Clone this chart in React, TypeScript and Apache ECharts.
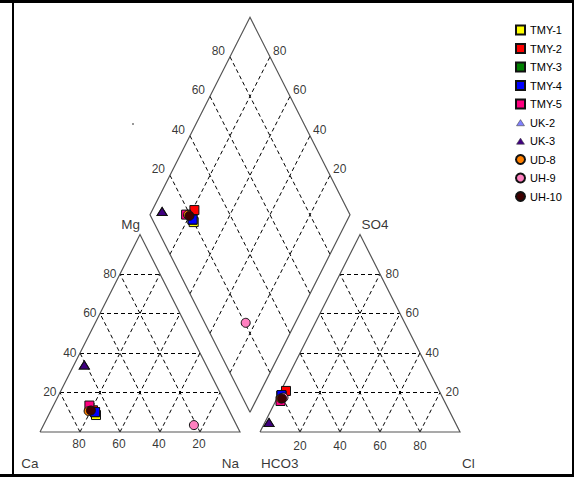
import React, { useEffect, useRef } from 'react';
import * as echarts from 'echarts';

// ---- data (percent of meq) ----
const sampleNames = ['TMY-1', 'TMY-2', 'TMY-3', 'TMY-4', 'TMY-5', 'UK-2', 'UK-3', 'UD-8', 'UH-9', 'UH-10'];
const sampleSymbols = ['rect', 'rect', 'rect', 'rect', 'rect', 'triangle', 'triangle', 'circle', 'circle', 'circle'];
const sampleColors = ['#FFFF00', '#FF0000', '#008000', '#0000FF', '#FF0080', '#8080FF', '#400080', '#FF8000', '#FF80C0', '#400000'];

const caPct = [67.7, 68.0, 67.5, 67.4, 68.6, 60.9, 60.9, 70.4, 21.3, 69.1];
const mgPct = [8.6, 11.0, 10.0, 10.1, 13.4, 33.9, 33.9, 10.6, 3.5, 10.9];
const naPct = [23.7, 21.0, 22.5, 22.5, 18.0, 5.2, 5.2, 19.0, 75.2, 20.0];

const hco3Pct = [80.0, 76.6, 80.0, 79.9, 81.9, 93.1, 93.1, 81.0, 79.5, 80.5];
const so4Pct = [18.5, 20.8, 18.5, 18.7, 15.7, 4.8, 4.8, 17.0, 17.5, 17.0];
const clPct = [1.5, 2.6, 1.5, 1.4, 2.4, 2.1, 2.1, 2.0, 3.0, 2.5];

const gridTicks = [20, 40, 60, 80];
const cornerLabels = ['Mg', 'Ca', 'Na', 'SO4', 'HCO3', 'Cl'];

// ---- geometry helpers (model coords: triangle side = 1) ----
const GAP = 0.1;
const H = Math.sqrt(3) / 2;

function cationXY(ca: number, mg: number, na: number): number[] {
  const s = ca + mg + na;
  const n = na / s;
  const m = mg / s;
  return [n + m / 2, H * m];
}
function anionXY(hco3: number, so4: number, cl: number): number[] {
  const s = hco3 + so4 + cl;
  const c = cl / s;
  const so = so4 / s;
  return [1 + GAP + c + so / 2, H * so];
}
function diamondXY(naP: number, hco3P: number): number[] {
  const n = naP / 100;
  const h = hco3P / 100;
  const a = 2 + GAP - h - n;
  return [n + a / 2, H * a];
}

const FONT = 'Liberation Sans, Arial, sans-serif';
const SMALL_TRIANGLE = 'path://M0 0M10 10M0.6 8.6L5 1.8L9.4 8.6Z';

export default function App() {
  const ref = useRef<HTMLDivElement>(null);

  useEffect(() => {
    if (!ref.current) return;
    const chart = echarts.init(ref.current, undefined, { renderer: 'svg' });

    const outlines = [
      { coords: [[0, 0], [1, 0], [0.5, H], [0, 0]] },
      { coords: [[1 + GAP, 0], [2 + GAP, 0], [1.5 + GAP, H], [1 + GAP, 0]] },
      { coords: [diamondXY(100, 100), diamondXY(100, 0), diamondXY(0, 0), diamondXY(0, 100), diamondXY(100, 100)] },
    ];

    const gridSegs: any[] = [];
    gridTicks.forEach((k) => {
      const r = 100 - k;
      gridSegs.push({ coords: [cationXY(r, k, 0), cationXY(0, k, r)] });
      gridSegs.push({ coords: [cationXY(r, 0, k), cationXY(0, r, k)] });
      gridSegs.push({ coords: [cationXY(k, 0, r), cationXY(k, r, 0)] });
      gridSegs.push({ coords: [anionXY(r, k, 0), anionXY(0, k, r)] });
      gridSegs.push({ coords: [anionXY(r, 0, k), anionXY(0, r, k)] });
      gridSegs.push({ coords: [anionXY(k, 0, r), anionXY(k, r, 0)] });
      gridSegs.push({ coords: [diamondXY(k, 100), diamondXY(k, 0)] });
      gridSegs.push({ coords: [diamondXY(0, k), diamondXY(100, k)] });
    });

    const lbl = (pos: number[], text: string, align: string, offset: number[], fontSize = 12) => ({
      value: pos,
      label: {
        show: true,
        position: 'inside',
        formatter: text,
        align,
        verticalAlign: 'middle',
        offset,
        fontSize,
        color: '#000',
        textBorderWidth: 0,
        textBorderColor: 'transparent',
        fontFamily: FONT,
      },
    });
    const labelData: any[] = [];
    gridTicks.forEach((k) => {
      const r = 100 - k;
      labelData.push(lbl(cationXY(r, k, 0), String(k), 'right', [-3.5, -0.5]));
      labelData.push(lbl(cationXY(k, 0, r), String(k), 'center', [-1, 11.5]));
      labelData.push(lbl(anionXY(0, k, r), String(k), 'left', [5.5, -0.5]));
      labelData.push(lbl(anionXY(r, 0, k), String(k), 'center', [0, 14]));
      labelData.push(lbl(diamondXY(0, r), String(k), 'right', [-5, -6]));
      labelData.push(lbl(diamondXY(r, 0), String(k), 'left', [3, -6]));
    });
    labelData.push(lbl(cationXY(0, 100, 0), cornerLabels[0], 'right', [0, -10], 13.5));
    labelData.push(lbl(cationXY(100, 0, 0), cornerLabels[1], 'right', [-1.5, 31], 13.5));
    labelData.push(lbl(cationXY(0, 0, 100), cornerLabels[2], 'right', [-1, 31], 13.5));
    labelData.push(lbl(anionXY(0, 100, 0), cornerLabels[3], 'left', [1.5, -10], 13.5));
    labelData.push(lbl(anionXY(100, 0, 0), cornerLabels[4], 'left', [1, 31], 13.5));
    labelData.push(lbl(anionXY(0, 0, 100), cornerLabels[5], 'left', [2, 31], 13.5));

    const sampleSeries = sampleNames.map((name, i) => ({
      name,
      type: 'scatter',
      symbol: sampleSymbols[i],
      symbolSize: sampleSymbols[i] === 'triangle' ? [10, 8] : 9,
      itemStyle: { color: sampleColors[i], borderColor: '#111', borderWidth: 1, opacity: 1 },
      z: 5,
      silent: true,
      data: [
        cationXY(caPct[i], mgPct[i], naPct[i]),
        anionXY(hco3Pct[i], so4Pct[i], clPct[i]),
        diamondXY((naPct[i] / (caPct[i] + mgPct[i] + naPct[i])) * 100, (hco3Pct[i] / (hco3Pct[i] + so4Pct[i] + clPct[i])) * 100),
      ],
    }));

    const legendData = sampleNames.map((name, i) =>
      sampleSymbols[i] === 'triangle'
        ? { name, icon: SMALL_TRIANGLE, itemStyle: { color: sampleColors[i], borderColor: '#444', borderWidth: 0.6 } }
        : { name }
    );

    chart.setOption({
      animation: false,
      backgroundColor: '#fff',
      grid: { left: 0, width: 560, top: 10.2, height: 456, outerBoundsMode: 'none', containLabel: false },
      xAxis: { type: 'value', min: -0.2, max: 2.6, show: false },
      yAxis: { type: 'value', min: -0.15, max: 1.85, show: false },
      legend: {
        orient: 'vertical',
        left: 510,
        top: 19,
        itemWidth: 9,
        itemHeight: 9,
        itemGap: 6.5,
        selectedMode: false,
        data: legendData,
        textStyle: { fontSize: 11, color: '#000', fontFamily: FONT, lineHeight: 12 },
      },
      graphic: [
        { type: 'line', shape: { x1: 0, y1: 1.5, x2: 574, y2: 1.5 }, style: { stroke: '#000', lineWidth: 3 } },
        { type: 'line', shape: { x1: 0, y1: 475.5, x2: 574, y2: 475.5 }, style: { stroke: '#000', lineWidth: 3 } },
        { type: 'line', shape: { x1: 13, y1: 0, x2: 13, y2: 477 }, style: { stroke: '#000', lineWidth: 2 } },
        { type: 'line', shape: { x1: 573, y1: 0, x2: 573, y2: 477 }, style: { stroke: '#000', lineWidth: 2 } },
        { type: 'rect', shape: { x: 132, y: 123.5, width: 2, height: 1 }, style: { fill: '#333' } },
      ],
      series: [
        {
          type: 'lines',
          coordinateSystem: 'cartesian2d',
          polyline: false,
          silent: true,
          z: 1,
          lineStyle: { color: '#000', width: 1, type: [4, 3], opacity: 1 },
          data: gridSegs,
        },
        {
          type: 'lines',
          coordinateSystem: 'cartesian2d',
          polyline: true,
          silent: true,
          z: 2,
          lineStyle: { color: '#555', width: 1.2, type: 'solid', opacity: 1 },
          data: outlines,
        },
        {
          type: 'scatter',
          name: '__labels',
          symbol: 'circle',
          symbolSize: 1,
          silent: true,
          z: 3,
          itemStyle: { color: 'rgba(0,0,0,0)' },
          data: labelData,
        },
        ...sampleSeries,
      ],
    });

    return () => chart.dispose();
  }, []);

  return (
    <div
      ref={ref}
      style={{ position: 'fixed', left: 0, top: 0, width: 574, height: 477, background: '#fff' }}
    />
  );
}
